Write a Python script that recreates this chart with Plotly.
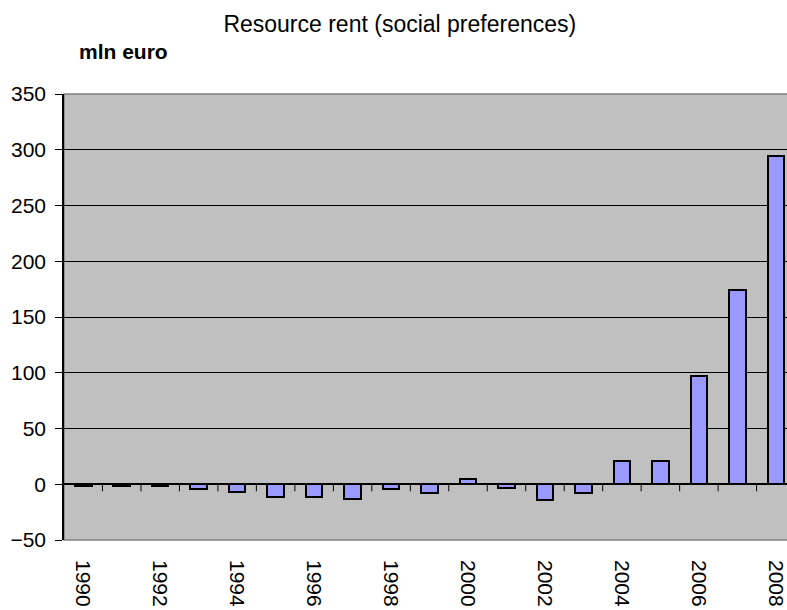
import plotly.graph_objects as go

years = list(range(1990, 2009))
values = [-1.2, -1.2, -1.2, -4.5, -6.5, -11, -11, -13, -4.5, -7.5,
          5, -3, -14.5, -7.5, 20.5, 20.5, 97.5, 174, 294]
tick_years = list(range(1990, 2009, 2))
y_ticks = list(range(-50, 351, 50))

title_text = "Resource rent (social preferences)"
unit_text = "mln euro"

FONT = "Liberation Sans, Arial, sans-serif"

fig = go.Figure()
fig.add_trace(go.Bar(
    x=years, y=values, width=0.43,
    marker=dict(color="#9999FF", line=dict(color="black", width=2)),
    showlegend=False,
))

# category boundary tick marks hanging below the zero line
shapes = []
for yr in years[:-1]:
    shapes.append(dict(type="line", xref="x", yref="y", x0=yr + 0.5, x1=yr + 0.5,
                       ysizemode="pixel", yanchor=0, y0=0, y1=-7,
                       line=dict(color="black", width=1), layer="above"))
# plot area border (grey)
shapes.append(dict(type="rect", xref="paper", yref="paper", x0=0, x1=1.02, y0=0, y1=1,
                   line=dict(color="#808080", width=1.5), layer="below"))

fig.update_layout(
    width=787, height=610,
    margin=dict(l=64, r=0, t=94, b=70, autoexpand=False),
    paper_bgcolor="white", plot_bgcolor="#C0C0C0",
    font=dict(family=FONT, color="black"),
    title=dict(text=title_text, x=0.508, xanchor="center", y=1 - 24 / 610,
               yanchor="middle", font=dict(size=23, family=FONT, color="black")),
    shapes=shapes,
    bargap=0,
    annotations=[dict(text="<b>" + unit_text + "</b>", xref="paper", yref="paper",
                      x=(77 - 64) / 723, y=(540 - 52) / 446, xanchor="left",
                      yanchor="middle", showarrow=False,
                      font=dict(size=21, family=FONT, color="black"))],
)
fig.update_xaxes(
    range=[1989.5, 2008.29], tickvals=tick_years, ticktext=[str(t) for t in tick_years],
    tickangle=90, ticks="", showgrid=False, zeroline=False, showline=False,
    tickfont=dict(size=21, family=FONT, color="black"), ticklabelstandoff=19,
    ticklabeloverflow="allow", automargin=False, fixedrange=True,
)
fig.update_yaxes(
    range=[-50, 350], tickvals=y_ticks, ticks="outside", ticklen=7, tickcolor="black",
    showgrid=True, gridcolor="black", gridwidth=1,
    zeroline=True, zerolinecolor="black", zerolinewidth=1.5,
    showline=True, linecolor="black", linewidth=1.5,
    tickfont=dict(size=21, family=FONT, color="black"), ticklabelstandoff=5,
    automargin=False, fixedrange=True,
)

fig.write_html("out.html", config={"displayModeBar": False},
               post_script="document.body.style.margin='0';document.body.style.overflow='hidden';")
